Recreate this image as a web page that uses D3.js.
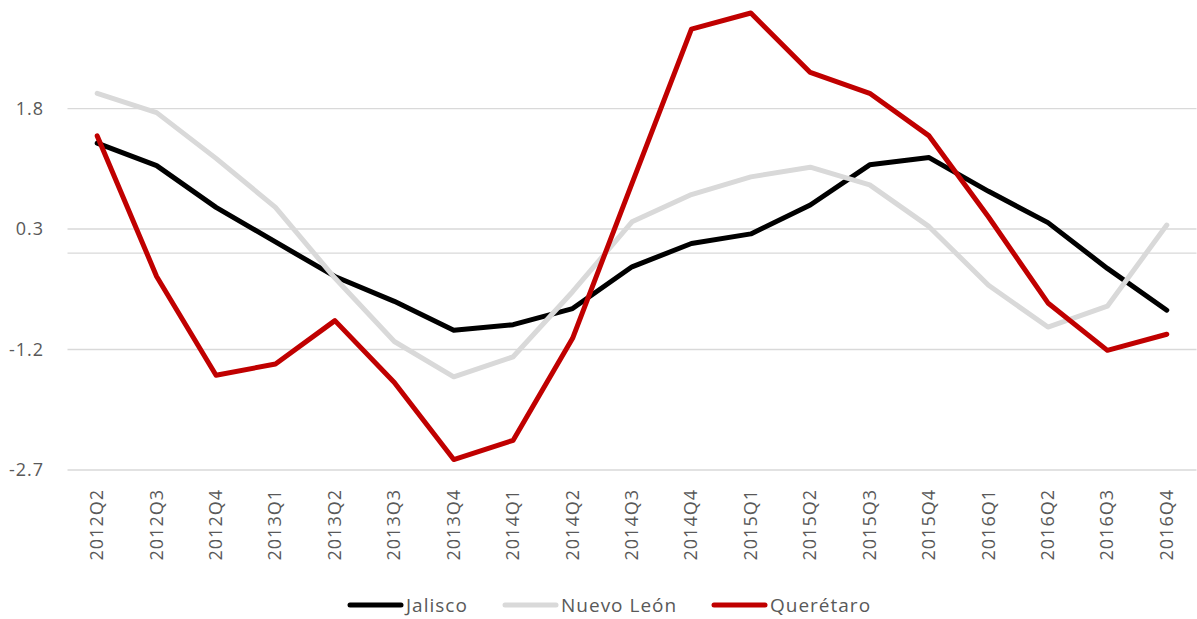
<!DOCTYPE html>
<html>
<head>
<meta charset="utf-8">
<script src="https://d3js.org/d3.v7.min.js"></script>
<style>
  body { margin: 0; background: #fff; }
  text { font-family: "Open Sans", "Noto Sans", sans-serif; fill: #595959; }
</style>
</head>
<body>
<div id="chart"></div>
<script>
const quarters = ["2012Q2","2012Q3","2012Q4","2013Q1","2013Q2","2013Q3","2013Q4","2014Q1","2014Q2",
  "2014Q3","2014Q4","2015Q1","2015Q2","2015Q3","2015Q4","2016Q1","2016Q2","2016Q3","2016Q4"];
const jalisco   = [1.37, 1.09, 0.57, 0.14, -0.29, -0.60, -0.96, -0.89, -0.69, -0.17, 0.12, 0.24, 0.60, 1.10, 1.19, 0.77, 0.38, -0.19, -0.71];
const nuevoLeon = [1.99, 1.75, 1.18, 0.57, -0.31, -1.10, -1.54, -1.29, -0.48, 0.39, 0.73, 0.95, 1.07, 0.85, 0.33, -0.40, -0.92, -0.66, 0.35];
const queretaro = [1.46, -0.29, -1.52, -1.38, -0.84, -1.61, -2.57, -2.33, -1.06, 0.87, 2.79, 2.99, 2.25, 1.99, 1.46, 0.45, -0.62, -1.21, -1.01];
const yTicks = [1.8, 0.3, -1.2, -2.7];
const seriesNames = ["Jalisco", "Nuevo León", "Querétaro"];
const seriesColors = ["#000000", "#d9d9d9", "#c00000"];

const width = 1197, height = 619;
const svg = d3.select("#chart").append("svg")
    .attr("width", width)
    .attr("height", height);

// x: one band per quarter, point in the middle
let x = d3.scaleBand()
    .domain(quarters)
    .range([67.5, 1196.5]);
const xc = d => x(d) + x.bandwidth() / 2;

let y = d3.scaleLinear()
    .domain([-2.7, 1.8])
    .range([470, 108.6]);

// gridlines
svg.append("g")
    .selectAll("line")
    .data(yTicks)
    .enter().append("line")
    .attr("x1", 67.5).attr("x2", 1196.5)
    .attr("y1", d => y(d)).attr("y2", d => y(d))
    .attr("stroke", "#d9d9d9")
    .attr("stroke-width", 1.4);

// zero axis line
svg.append("line")
    .attr("x1", 67.5).attr("x2", 1196.5)
    .attr("y1", y(0)).attr("y2", y(0))
    .attr("stroke", "#d9d9d9")
    .attr("stroke-width", 1.4);

// y tick labels
svg.append("g")
    .selectAll("text")
    .data(yTicks)
    .enter().append("text")
    .attr("x", 44)
    .attr("y", d => y(d))
    .attr("dy", "0.35em")
    .attr("text-anchor", "end")
    .style("font-size", "18px")
    .style("letter-spacing", "1px")
    .text(d => d.toFixed(1));

// x labels, rotated
svg.append("g")
    .selectAll("text")
    .data(quarters)
    .enter().append("text")
    .attr("transform", d => `translate(${xc(d) + 6}, 489) rotate(-90)`)
    .attr("text-anchor", "end")
    .style("font-size", "18px")
    .style("letter-spacing", "1px")
    .text(d => d);

// lines
const allSeries = [jalisco, nuevoLeon, queretaro];
const line = d3.line()
    .x((d, i) => xc(quarters[i]))
    .y(d => y(d));

svg.append("g")
    .selectAll("path")
    .data(allSeries)
    .enter().append("path")
    .attr("d", d => line(d))
    .attr("fill", "none")
    .attr("stroke", (d, i) => seriesColors[i])
    .attr("stroke-width", 5)
    .attr("stroke-linejoin", "round")
    .attr("stroke-linecap", "round");

// legend
const legendX = [350, 505, 714];
const legend = svg.append("g")
    .selectAll("g")
    .data(seriesNames)
    .enter().append("g")
    .attr("transform", (d, i) => `translate(${legendX[i]}, 605)`);

legend.append("line")
    .attr("x1", 0).attr("x2", 51)
    .attr("y1", 0).attr("y2", 0)
    .attr("stroke", (d, i) => seriesColors[i])
    .attr("stroke-width", 5)
    .attr("stroke-linecap", "round");

legend.append("text")
    .attr("x", 56)
    .attr("y", 0)
    .attr("dy", "0.35em")
    .style("font-size", "19px")
    .style("letter-spacing", "1px")
    .text(d => d);
</script>
</body>
</html>
